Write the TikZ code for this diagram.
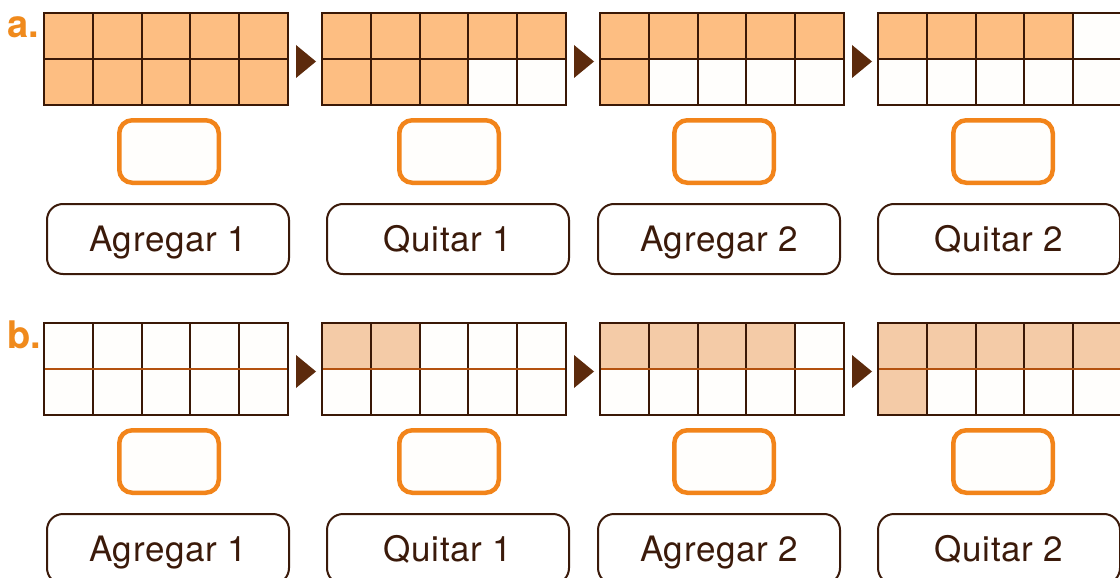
\documentclass[tikz,border=0pt]{standalone}
\usepackage{fontspec}
\setmainfont{TeX Gyre Heros}
\newfontfamily\lblfont[LetterSpace=2]{TeX Gyre Heros}
\definecolor{fillA}{HTML}{FDBE82}
\definecolor{fillB}{HTML}{F4CBA7}
\definecolor{cellwhite}{HTML}{FFFEFC}
\definecolor{gridbrown}{HTML}{3A1806}
\definecolor{midorange}{HTML}{B4520F}
\definecolor{ansorange}{HTML}{F2841A}
\definecolor{arrowbrown}{HTML}{5C2A0C}
\definecolor{textbrown}{HTML}{3B1A0A}
\definecolor{lblorange}{HTML}{F08A1C}
\tikzset{
  gridline/.style={draw=gridbrown, line width=2pt},
  ansbox/.style={draw=ansorange, line width=4.5pt, rounded corners=13pt, fill=cellwhite,
    minimum width=99.5pt, minimum height=62.5pt, inner sep=0pt},
  opbox/.style={draw=textbrown, line width=2pt, rounded corners=16pt, fill=white,
    minimum width=242pt, minimum height=70pt, inner sep=0pt, text=textbrown,
    font=\lblfont\fontsize{35}{40}\selectfont, text height=25pt, text depth=0pt},
  partlbl/.style={anchor=base west, inner sep=0pt, text=lblorange,
    font=\bfseries\fontsize{38}{40}\selectfont},
  steparrow/.style={fill=arrowbrown}
}
\newcommand\tenframe[6]{%
  \fill[cellwhite] (#1,#2) rectangle ++(244,92);
  \foreach \k in {0,...,4}{%
    \ifnum\k<#3\relax \fill[#5] ({#1+48.8*\k},#2) rectangle ++(48.8,46);\fi
    \ifnum\k<#4\relax \fill[#5] ({#1+48.8*\k},#2+46) rectangle ++(48.8,46);\fi
  }
  \foreach \k in {1,...,4} \draw[gridline] ({#1+48.8*\k},#2) -- ++(0,92);
  \draw[#6, line width=2pt] (#1,#2+46) -- ++(244,0);
  \draw[gridline] (#1,#2) rectangle ++(244,92);
}
\begin{document}
\begin{tikzpicture}[x=1pt,y=-1pt]
\useasboundingbox (0,0) rectangle (1120,578);
\fill[white] (0,0) rectangle (1120,578);
\clip (0,0) rectangle (1120,578);

% part labels
\node[partlbl] (la) at (7,38) {a.};
\node[partlbl] (lb) at (7,348) {b.};

% row a frames
\tenframe{44}{13}{5}{5}{fillA}{gridbrown}
\tenframe{322}{13}{5}{3}{fillA}{gridbrown}
\tenframe{600}{13}{5}{1}{fillA}{gridbrown}
\tenframe{878}{13}{4}{0}{fillA}{gridbrown}
% row b frames
\tenframe{44}{323}{0}{0}{fillB}{midorange}
\tenframe{322}{323}{2}{0}{fillB}{midorange}
\tenframe{600}{323}{4}{0}{fillB}{midorange}
\tenframe{878}{323}{5}{1}{fillB}{midorange}

% step arrows
\foreach \i in {0,1,2}{
  \fill[steparrow] ({296+278*\i},45) -- ({316+278*\i},61.5) -- ({296+278*\i},78) -- cycle;
  \fill[steparrow] ({296+278*\i},355) -- ({316+278*\i},371.5) -- ({296+278*\i},388) -- cycle;
}

% answer boxes
\node[ansbox] (aans1) at (169,151.5) {};
\node[ansbox] (aans2) at (449,151.5) {};
\node[ansbox] (aans3) at (724,151.5) {};
\node[ansbox] (aans4) at (1003,151.5) {};
\node[ansbox] (bans1) at (169,461.5) {};
\node[ansbox] (bans2) at (449,461.5) {};
\node[ansbox] (bans3) at (724,461.5) {};
\node[ansbox] (bans4) at (1003,461.5) {};

% operation boxes
\node[opbox] (aop1) at (168,239) {Agregar 1};
\node[opbox] (aop2) at (448,239) {Quitar 1};
\node[opbox] (aop3) at (719,239) {Agregar 2};
\node[opbox] (aop4) at (999,239) {Quitar 2};
\node[opbox] (bop1) at (168,549) {Agregar 1};
\node[opbox] (bop2) at (448,549) {Quitar 1};
\node[opbox] (bop3) at (719,549) {Agregar 2};
\node[opbox] (bop4) at (999,549) {Quitar 2};
\end{tikzpicture}
\end{document}
